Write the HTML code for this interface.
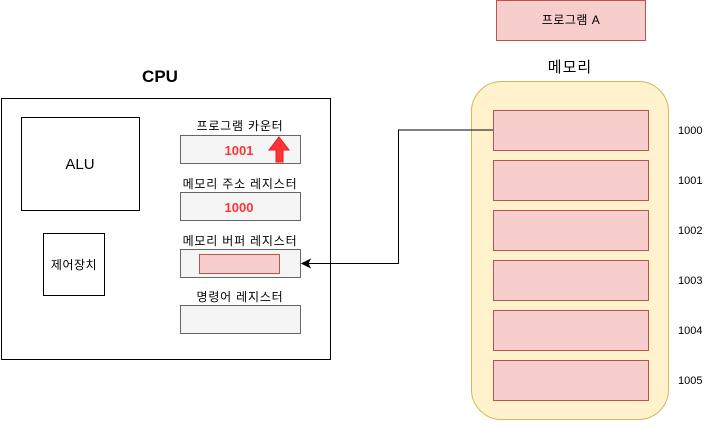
<!DOCTYPE html>
<html><head><meta charset="utf-8"><style>html,body{margin:0;padding:0;background:#fff}</style></head><body>
<svg width="721" height="422" xmlns="http://www.w3.org/2000/svg" font-family="Liberation Sans, Noto Sans CJK KR, sans-serif">
<rect x="1.5" y="98.5" width="329" height="261" fill="#fff" stroke="#000"/>
<text x="160" y="82" font-size="17" font-weight="bold" text-anchor="middle">CPU</text>
<rect x="21.5" y="117.5" width="118" height="93" fill="#fff" stroke="#000"/>
<text x="80" y="169" font-size="15" text-anchor="middle">ALU</text>
<rect x="43.5" y="233.5" width="61" height="62" fill="#fff" stroke="#000"/>
<text x="74" y="269" font-size="12" text-anchor="middle" letter-spacing="0.5">제어장치</text>
<g font-size="12" text-anchor="middle" fill="#000" letter-spacing="0.8">
<text x="240" y="130">프로그램 카운터</text>
<text x="240" y="188">메모리 주소 레지스터</text>
<text x="240" y="245">메모리 버퍼 레지스터</text>
<text x="240" y="301">명령어 레지스터</text>
</g>
<g fill="#f5f5f5" stroke="#666">
<rect x="180.5" y="135.5" width="120" height="28"/>
<rect x="180.5" y="192.5" width="120" height="28"/>
<rect x="180.5" y="249.5" width="120" height="28"/>
<rect x="180.5" y="305.5" width="120" height="28"/>
</g>
<rect x="199.5" y="254.5" width="80" height="19" fill="#f8cecc" stroke="#b85450"/>
<text x="239" y="155" font-size="13" font-weight="bold" fill="#ff3333" text-anchor="middle">1001</text>
<text x="239" y="212" font-size="13" font-weight="bold" fill="#ff3333" text-anchor="middle">1000</text>
<polygon points="279,137 289,150 283,150 283,162 276,162 276,150 269,150" fill="#ff3333" stroke="#e02020"/>
<rect x="496.5" y="0.5" width="149" height="40" fill="#f8cecc" stroke="#b85450"/>
<text x="571" y="24" font-size="12" text-anchor="middle" letter-spacing="0.5">프로그램 A</text>
<text x="570" y="72" font-size="15" text-anchor="middle" letter-spacing="1">메모리</text>
<rect x="471.5" y="81.5" width="197" height="338" rx="30" fill="#fff2cc" stroke="#d6b656"/>
<g fill="#f8cecc" stroke="#b85450">
<rect x="493.5" y="110.5" width="155" height="40"/>
<rect x="493.5" y="160.5" width="155" height="40"/>
<rect x="493.5" y="210.5" width="155" height="40"/>
<rect x="493.5" y="260.5" width="155" height="40"/>
<rect x="493.5" y="310.5" width="155" height="40"/>
<rect x="493.5" y="360.5" width="155" height="40"/>
</g>
<g font-size="11" fill="#000">
<text x="678" y="134">1000</text>
<text x="678" y="184">1001</text>
<text x="678" y="234">1002</text>
<text x="678" y="284">1003</text>
<text x="678" y="334">1004</text>
<text x="678" y="384">1005</text>
</g>
<polyline points="493,130 398.5,130 398.5,263.5 308,263.5" fill="none" stroke="#000"/>
<polygon points="302,263.5 310,259.5 308,263.5 310,267.5" fill="#000" stroke="#000"/>
</svg>
</body></html>
